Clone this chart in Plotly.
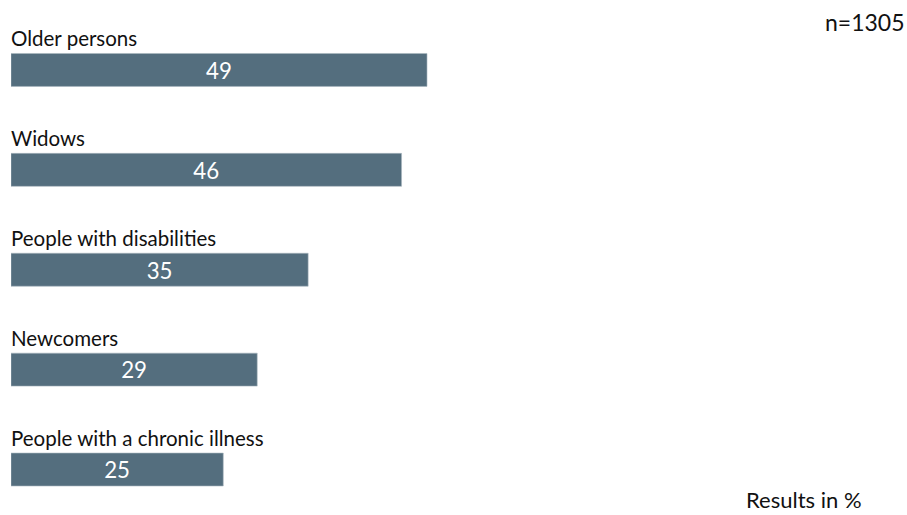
import plotly.graph_objects as go

categories = ["Older persons", "Widows", "People with disabilities", "Newcomers",
              "People with a chronic illness"]
values = [49, 46, 35, 29, 25]
sample_note = "n=1305"
unit_note = "Results in %"

BAR_COLOR = "#546e7e"
FONT = "Lato"

positions = list(range(len(categories)))

fig = go.Figure(go.Bar(
    x=values,
    y=positions,
    orientation="h",
    width=0.33,
    marker=dict(color=BAR_COLOR, line=dict(color="#a9b7c0", width=0.6)),
    text=[str(v) for v in values],
    textposition="inside",
    insidetextanchor="middle",
    textangle=0,
    textfont=dict(family=FONT, size=24, color="white"),
    hoverinfo="skip",
))

# category names sit just above each bar
for pos, name in zip(positions, categories):
    fig.add_annotation(
        x=0, y=pos, xref="x", yref="y", text=name, showarrow=False,
        xanchor="left", yanchor="middle", yshift=32, xshift=-2,
        font=dict(family=FONT, size=20.5, color="#111111"),
    )

fig.add_annotation(x=1.055, y=1.0, xref="paper", yref="paper", text=sample_note,
                   showarrow=False, xanchor="right", yanchor="middle", yshift=-2,
                   font=dict(family=FONT, size=23, color="#111111"))
fig.add_annotation(x=1.004, y=0.0, xref="paper", yref="paper", text=unit_note,
                   showarrow=False, xanchor="right", yanchor="middle", yshift=1,
                   borderpad=0,
                   font=dict(family=FONT, size=22, color="#111111"))

fig.update_layout(
    width=907, height=515,
    margin=dict(l=11, r=47, t=20, b=15),
    paper_bgcolor="white", plot_bgcolor="white",
    showlegend=False,
    xaxis=dict(range=[0, 100], visible=False, fixedrange=True),
    yaxis=dict(range=[4.305, -0.5], visible=False, fixedrange=True),
    uniformtext=dict(minsize=10, mode="show"),
)

fig.write_html("out.html")
